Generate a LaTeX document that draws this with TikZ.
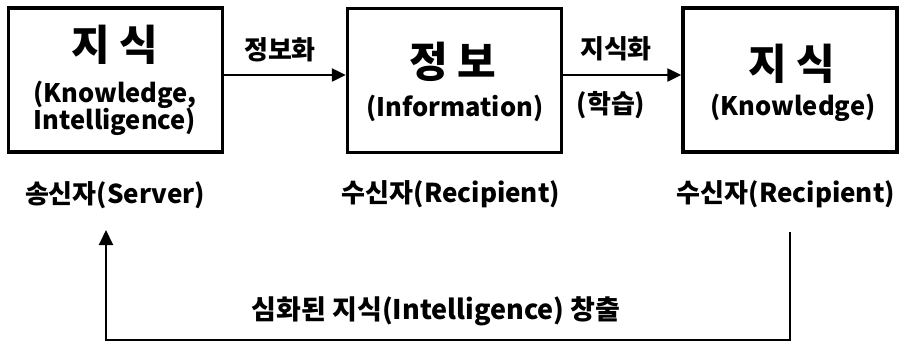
\documentclass[tikz,border=0pt]{standalone}
\usepackage{fontspec}
\setmainfont{Noto Sans CJK KR}
\usetikzlibrary{arrows.meta}
\tikzset{
  box/.style={draw, line width=3.5pt, minimum width=214pt, minimum height=144pt, inner sep=0pt},
  bigtxt/.style={font=\fontsize{42}{42}\selectfont\bfseries, inner sep=0pt},
  subtxt/.style={font=\fontsize{25.5}{25.5}\selectfont\bfseries, inner sep=0pt},
  lbl/.style={font=\fontsize{26}{26}\selectfont\bfseries, inner sep=0pt},
  flow/.style={line width=2.5pt, -{Triangle[length=14pt,width=13pt]}},
  fb/.style={line width=2pt, -{Triangle[length=15pt,width=14pt]}}
}
\begin{document}
\begin{tikzpicture}[x=1pt,y=-1pt]
\useasboundingbox (0,0) rectangle (908,346);
% boxes
\node[box] (k1) at (115.5,80) {};
\node[box] (inf) at (454.5,80.5) {};
\node[box] (k2) at (790,80) {};
% box texts
\node[bigtxt] (k1t) at (115,45) {지 식};
\node[subtxt] (k1s) at (115,95) {(Knowledge,};
\node[subtxt] (k1u) at (115,122) {Intelligence)};
\node[bigtxt] (inft) at (453,62) {정 보};
\node[subtxt] (infs) at (455,108) {(Information)};
\node[bigtxt] (k2t) at (792,64) {지 식};
\node[subtxt] (k2s) at (793,108) {(Knowledge)};
% arrows
\draw[flow] (k1.east |- 0,75) -- (inf.west |- 0,75);
\draw[flow] (inf.east |- 0,75) -- (k2.west |- 0,75);
\node[lbl] (a1) at (280,50) {정보화};
\node[lbl] (a2a) at (616,49) {지식화};
\node[lbl] (a2b) at (611,105) {(학습)};
% bottom labels
\node[lbl] (s1) at (115,195) {송신자(Server)};
\node[lbl] (s2) at (451,194) {수신자(Recipient)};
\node[lbl] (s3) at (786,194) {수신자(Recipient)};
% feedback
\coordinate (fbtop) at (790,232);
\coordinate (fbbottom) at (106,340);
\coordinate (fbtip) at (106,230);
\draw[fb] (fbtop) |- (fbbottom) -- (fbtip);
\node[font=\fontsize{27}{27}\selectfont\bfseries, inner sep=0pt] (fbl) at (436,311) {심화된 지식(Intelligence) 창출};
\end{tikzpicture}
\end{document}
